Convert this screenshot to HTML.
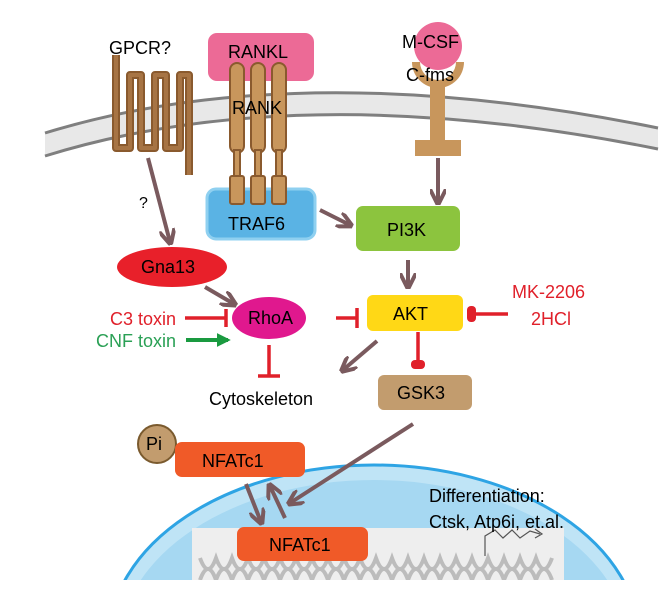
<!DOCTYPE html>
<html><head><meta charset="utf-8"><style>
html,body{margin:0;padding:0;background:#fff;width:670px;height:599px;overflow:hidden;}
svg{display:block;font-family:"Liberation Sans",Arial,sans-serif;}
</style></head><body>
<svg width="670" height="599" viewBox="0 0 670 599" xmlns="http://www.w3.org/2000/svg">
<defs>
<marker id="ah" viewBox="0 0 10 10" refX="8" refY="5" markerWidth="4" markerHeight="4" orient="auto"><path d="M0,0 L10,5 L0,10" fill="none" stroke="#7a5a5e" stroke-width="2.5"/></marker>
<marker id="ahg" viewBox="0 0 10 10" refX="8" refY="5" markerWidth="3.5" markerHeight="3.5" orient="auto"><path d="M0,0 L10,5 L0,10 z" fill="#1a9a40"/></marker>
<clipPath id="nc"><rect x="0" y="0" width="670" height="580"/></clipPath>
</defs>

<g clip-path="url(#nc)">
<ellipse cx="374" cy="640" rx="265" ry="175" fill="#bfe4f6" stroke="#2ea4e4" stroke-width="3"/>
<ellipse cx="374" cy="648" rx="255" ry="168" fill="#a6d8f2"/>
<rect x="192" y="528" width="372" height="60" fill="#eeeeee"/>
<g stroke="#bcbcbc" stroke-width="4" fill="none">
<path d="M200,558 q8,22 16,0 q8,22 16,0 q8,22 16,0 q8,22 16,0 q8,22 16,0 q8,22 16,0 q8,22 16,0 q8,22 16,0 q8,22 16,0 q8,22 16,0 q8,22 16,0 q8,22 16,0 q8,22 16,0 q8,22 16,0 q8,22 16,0 q8,22 16,0 q8,22 16,0 q8,22 16,0 q8,22 16,0 q8,22 16,0 q8,22 16,0 q8,22 16,0"/>
<path d="M200,580 q8,-22 16,0 q8,-22 16,0 q8,-22 16,0 q8,-22 16,0 q8,-22 16,0 q8,-22 16,0 q8,-22 16,0 q8,-22 16,0 q8,-22 16,0 q8,-22 16,0 q8,-22 16,0 q8,-22 16,0 q8,-22 16,0 q8,-22 16,0 q8,-22 16,0 q8,-22 16,0 q8,-22 16,0 q8,-22 16,0 q8,-22 16,0 q8,-22 16,0 q8,-22 16,0 q8,-22 16,0"/>
</g>
</g>
<path d="M485,556 V536 L495,530 L503,538 L512,530 L520,538 L530,531 L540,534" fill="none" stroke="#555" stroke-width="1.2"/>
<path d="M535,529 L542,534 L535,538" fill="none" stroke="#555" stroke-width="1.2"/>

<path d="M45,133 Q300,55 658,128 L658,149 Q300,77 45,156 Z" fill="#e8e8e8"/>
<path d="M45,133 Q300,55 658,128" fill="none" stroke="#7f7f7f" stroke-width="3"/>
<path d="M45,156 Q300,77 658,149" fill="none" stroke="#7f7f7f" stroke-width="3"/>

<path d="M116,55 V148 H130 V75 H141 V148 H155 V75 H166 V148 H180 V75 H189 V175" fill="none" stroke="#8a5a2e" stroke-width="8" stroke-linejoin="round"/>
<path d="M116,55 V148 H130 V75 H141 V148 H155 V75 H166 V148 H180 V75 H189 V175" fill="none" stroke="#a77444" stroke-width="4" stroke-linejoin="round"/>
<text x="109" y="54" font-size="18">GPCR?</text>

<rect x="208" y="33" width="106" height="48" rx="9" fill="#ec6a96"/>
<text x="228" y="58" font-size="18">RANKL</text>
<rect x="207" y="189" width="108" height="50" rx="9" fill="#5ab3e4" stroke="#8fd0f0" stroke-width="3"/>
<g fill="#c8965c" stroke="#8a5a2e" stroke-width="2">
<rect x="230" y="63" width="14" height="90" rx="7"/><rect x="251" y="63" width="14" height="90" rx="7"/><rect x="272" y="63" width="14" height="90" rx="7"/>
<rect x="234" y="150" width="6" height="30"/><rect x="255" y="150" width="6" height="30"/><rect x="276" y="150" width="6" height="30"/>
<rect x="230" y="176" width="14" height="28" rx="2"/><rect x="251" y="176" width="14" height="28" rx="2"/><rect x="272" y="176" width="14" height="28" rx="2"/>
</g>
<text x="232" y="114" font-size="18">RANK</text>
<text x="228" y="230" font-size="18">TRAF6</text>

<path d="M412,62 A26,26 0 0 0 464,62 L456,62 A18,18 0 0 1 420,62 Z" fill="#c8965c"/>
<rect x="430" y="80" width="15" height="62" fill="#c8965c"/>
<rect x="415" y="140" width="46" height="16" fill="#c8965c"/>
<circle cx="438" cy="46" r="24" fill="#ec6a96"/>
<text x="402" y="48" font-size="18">M-CSF</text>
<text x="406" y="81" font-size="18">C-fms</text>

<rect x="356" y="206" width="104" height="45" rx="7" fill="#8cc43e"/>
<text x="387" y="236" font-size="18">PI3K</text>

<g stroke="#7a5a5e" stroke-width="4" fill="none" marker-end="url(#ah)">
<line x1="438" y1="158" x2="438" y2="202"/>
<line x1="320" y1="210" x2="350" y2="225"/>
<line x1="148" y1="158" x2="170" y2="242"/>
<line x1="408" y1="260" x2="408" y2="286"/>
<line x1="205" y1="287" x2="234" y2="304"/>
<line x1="377" y1="341" x2="343" y2="370"/>
<line x1="413" y1="424" x2="290" y2="503"/>
<line x1="246" y1="484" x2="261" y2="522"/>
<line x1="285" y1="518" x2="270" y2="486"/>
</g>
<text x="139" y="208" font-size="16">?</text>

<ellipse cx="172" cy="267" rx="55" ry="20" fill="#e8202a"/>
<text x="141" y="273" font-size="18">Gna13</text>

<ellipse cx="269" cy="318" rx="37" ry="21" fill="#e0188e"/>
<text x="248" y="324" font-size="18">RhoA</text>

<text x="176" y="325" font-size="18" fill="#e0202a" text-anchor="end">C3 toxin</text>
<text x="176" y="347" font-size="18" fill="#2aa055" text-anchor="end">CNF toxin</text>
<g stroke="#e0202a" stroke-width="3.5" fill="none">
<line x1="185" y1="318" x2="226" y2="318"/><line x1="226" y1="309" x2="226" y2="327"/>
<line x1="269" y1="345" x2="269" y2="376"/><line x1="258" y1="376" x2="280" y2="376"/>
<line x1="358" y1="318" x2="336" y2="318"/><line x1="357" y1="308" x2="357" y2="328"/>
<line x1="508" y1="314" x2="474" y2="314"/>
<line x1="418" y1="332" x2="418" y2="362"/>
</g>
<rect x="467" y="306" width="9" height="16" rx="4" fill="#e0202a"/>
<rect x="411" y="360" width="14" height="9" rx="4" fill="#e0202a"/>
<line x1="186" y1="340" x2="228" y2="340" stroke="#1a9a40" stroke-width="4" marker-end="url(#ahg)"/>
<text x="209" y="405" font-size="18">Cytoskeleton</text>

<rect x="367" y="295" width="96" height="36" rx="6" fill="#ffd816"/>
<text x="393" y="320" font-size="18">AKT</text>
<text x="512" y="298" font-size="18" fill="#e0202a">MK-2206</text>
<text x="531" y="325" font-size="18" fill="#e0202a">2HCl</text>

<rect x="378" y="375" width="94" height="35" rx="6" fill="#c29c6e"/>
<text x="397" y="399" font-size="18">GSK3</text>

<circle cx="157" cy="444" r="19" fill="#c29c6e" stroke="#7a5a2e" stroke-width="2"/>
<text x="146" y="450" font-size="18">Pi</text>
<rect x="175" y="442" width="130" height="35" rx="7" fill="#f05a28"/>
<text x="202" y="467" font-size="18">NFATc1</text>
<rect x="237" y="527" width="131" height="34" rx="7" fill="#f05a28"/>
<text x="269" y="551" font-size="18">NFATc1</text>

<text x="429" y="502" font-size="18">Differentiation:</text>
<text x="429" y="528" font-size="18">Ctsk, Atp6i, et.al.</text>
</svg>
</body></html>
